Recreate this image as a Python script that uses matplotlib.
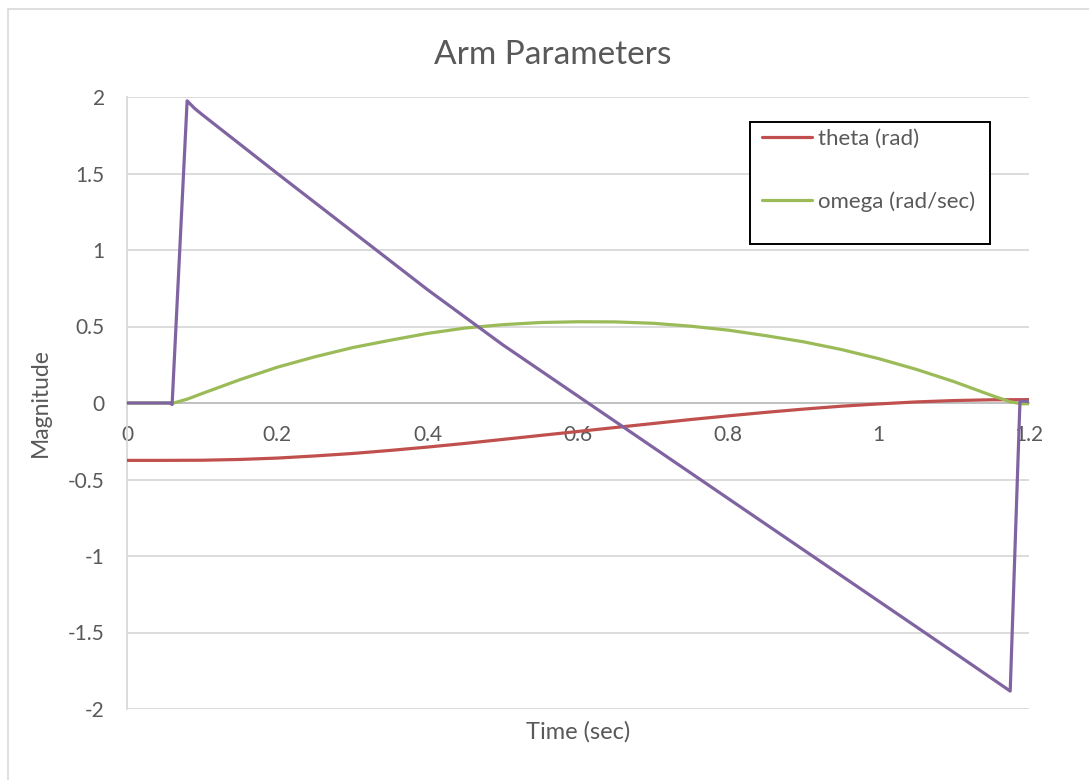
import matplotlib
matplotlib.use("Agg")
import matplotlib.pyplot as plt
import matplotlib.patches as mpatches

# Arm simulation output, sampled from the run log
t_theta = [0.0, 0.05, 0.1, 0.15, 0.2, 0.25, 0.3, 0.35, 0.4, 0.45, 0.5, 0.55,
           0.6, 0.65, 0.7, 0.75, 0.8, 0.85, 0.9, 0.95, 1.0, 1.05, 1.1, 1.15, 1.2]
theta = [-0.375, -0.375, -0.374, -0.369, -0.36, -0.346, -0.33, -0.31, -0.288,
         -0.264, -0.238, -0.212, -0.186, -0.16, -0.134, -0.108, -0.084, -0.061,
         -0.04, -0.021, -0.006, 0.007, 0.016, 0.021, 0.022]

t_omega = [0.0, 0.062, 0.08, 0.1, 0.15, 0.2, 0.25, 0.3, 0.35, 0.4, 0.45, 0.5,
           0.55, 0.6, 0.65, 0.7, 0.75, 0.8, 0.85, 0.9, 0.95, 1.0, 1.05, 1.1,
           1.15, 1.175, 1.19, 1.2]
omega = [0.0, 0.0, 0.025, 0.062, 0.152, 0.234, 0.302, 0.362, 0.41, 0.455,
         0.49, 0.512, 0.526, 0.531, 0.53, 0.521, 0.502, 0.476, 0.44, 0.4,
         0.35, 0.29, 0.22, 0.14, 0.05, 0.008, -0.005, -0.005]

t_alpha = [0.0, 0.057, 0.06, 0.08, 0.09, 0.1, 0.2, 0.3, 0.4, 0.5, 0.6, 0.7,
           0.8, 0.9, 1.0, 1.1, 1.175, 1.188, 1.2]
alpha = [0.0, 0.0, -0.01, 1.975, 1.925, 1.885, 1.50, 1.12, 0.74, 0.38, 0.045,
         -0.29, -0.625, -0.96, -1.295, -1.63, -1.883, 0.013, 0.01]

xticks = [0, 0.2, 0.4, 0.6, 0.8, 1, 1.2]
yticks = [-2, -1.5, -1, -0.5, 0, 0.5, 1, 1.5, 2]

plt.rcParams["font.family"] = ["Lato", "DejaVu Sans"]
text_grey = "#595959"
grid_grey = "#d9d9d9"
W, H = 1089, 780

fig = plt.figure(figsize=(10.89, 7.8), dpi=100)
ax = fig.add_axes([127 / W, 1 - 709 / H, (1029 - 127) / W, (709 - 97) / H])

# outer chart frame
fig.patches.append(mpatches.Rectangle((8 / W, -0.05), 1.1, 1 - 9 / H + 0.05,
                                      transform=fig.transFigure, fill=False,
                                      edgecolor=grid_grey, linewidth=1.2))

ax.plot(t_theta, theta, color="#C0504D", lw=2.3, label="theta (rad)",
        solid_capstyle="round", solid_joinstyle="round", zorder=3)
ax.plot(t_omega, omega, color="#9BBB59", lw=2.3, label="omega (rad/sec)",
        solid_capstyle="round", solid_joinstyle="round", zorder=3)
ax.plot(t_alpha, alpha, color="#8064A2", lw=2.3,
        solid_capstyle="round", solid_joinstyle="round", zorder=4)

ax.set_xlim(0, 1.2)
ax.set_ylim(-2, 2)
ax.set_xticks(xticks)
ax.set_xticklabels(["0", "0.2", "0.4", "0.6", "0.8", "1", "1.2"])
ax.set_yticks(yticks)
ax.set_yticklabels(["-2", "-1.5", "-1", "-0.5", "0", "0.5", "1", "1.5", "2"])

ax.yaxis.grid(True, color=grid_grey, linewidth=1.3)
ax.set_axisbelow(True)
for s in ["top", "right"]:
    ax.spines[s].set_visible(False)
ax.spines["bottom"].set_position(("data", 0))
ax.spines["bottom"].set_color("#bfbfbf")
ax.spines["bottom"].set_linewidth(1.3)
ax.spines["left"].set_color(grid_grey)
ax.spines["left"].set_linewidth(1.3)
ax.tick_params(axis="both", length=0, labelsize=15, labelcolor=text_grey)
ax.tick_params(axis="x", pad=16)
ax.tick_params(axis="y", pad=16)

fig.text(553 / W, 1 - 55 / H, "Arm Parameters", fontsize=24, color=text_grey,
         ha="center", va="center")
ax.set_ylabel("Magnitude", fontsize=16.5, color=text_grey, labelpad=12)
fig.text(578 / W, 1 - 732 / H, "Time (sec)", fontsize=17, color=text_grey,
         ha="center", va="center")

# legend box drawn by hand so it can be taller than its two entries
box = mpatches.Rectangle((750 / W, 1 - 244 / H), 240 / W, 122 / H,
                         transform=fig.transFigure, facecolor="white",
                         edgecolor="black", linewidth=1.4, zorder=5, clip_on=False)
ax.add_patch(box)
leg = ax.legend(loc="upper left", bbox_to_anchor=(762 / W, 1 - 129 / H),
                bbox_transform=fig.transFigure,
                fontsize=16, frameon=False, handlelength=2.25,
                handletextpad=0.25, labelspacing=1.9, borderpad=0,
                borderaxespad=0)
leg.set_zorder(6)
for txt in leg.get_texts():
    txt.set_color(text_grey)

fig.savefig("out.png", dpi=100)
